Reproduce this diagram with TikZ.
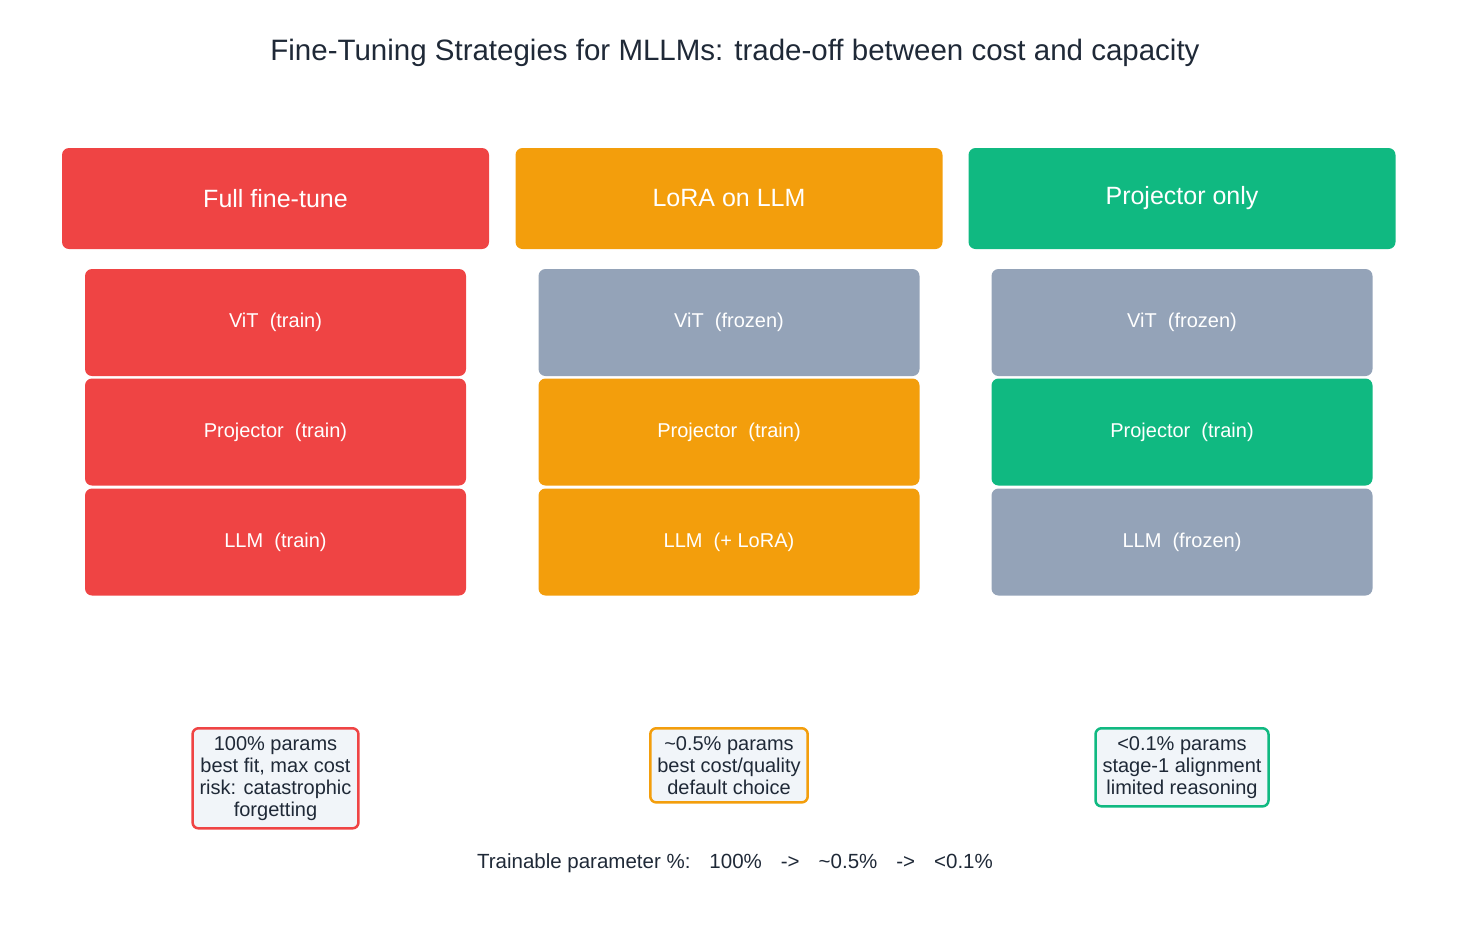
\documentclass[tikz,border=0pt]{standalone}
\usepackage{fontspec}
\setmainfont{Liberation Sans}
\usetikzlibrary{positioning}

\definecolor{fullred}{HTML}{EF4444}
\definecolor{loraorange}{HTML}{F39E0C}
\definecolor{projgreen}{HTML}{10B981}
\definecolor{frozengray}{HTML}{94A3B8}
\definecolor{notebg}{HTML}{F1F5F9}
\definecolor{inkdark}{HTML}{1F2937}

\tikzset{
    headbox/.style={rounded corners=7pt, minimum width=427pt, minimum height=101pt,
        inner sep=0pt, text=white, font=\fontsize{25}{28}\selectfont},
    layerbox/.style={rounded corners=7pt, minimum width=381pt, minimum height=107pt,
        inner sep=0pt, text=white, font=\fontsize{20}{22}\selectfont},
    notebox/.style={rounded corners=6pt, line width=2.5pt, fill=notebg, text=inkdark,
        align=center, inner xsep=7pt, inner ysep=8pt, anchor=north,
        font=\fontsize{20}{22}\selectfont}
}

\begin{document}
\begin{tikzpicture}[x=1pt, y=-1pt]
    \useasboundingbox (0,0) rectangle (1470,935);

    % title
    \node[text=inkdark, font=\fontsize{29.5}{32}\selectfont] (title) at (735,53)
        {Fine-Tuning Strategies for MLLMs: trade-off between cost and capacity};

    % strategy headers
    \node[headbox, fill=fullred]    (fullhead) at (275.5,198.5) {Full fine-tune};
    \node[headbox, fill=loraorange] (lorahead) at (729,198.5)   {LoRA on LLM};
    \node[headbox, fill=projgreen]  (projhead) at (1182,198.5)  {Projector only};

    % model stacks: ViT, projector, LLM
    \foreach \name/\cx/\cvit/\tvit/\cprj/\tprj/\cllm/\tllm in {
        full/275.5/fullred/train/fullred/train/fullred/train,
        lora/729/frozengray/frozen/loraorange/train/loraorange/+ LoRA,
        proj/1182/frozengray/frozen/projgreen/train/frozengray/frozen}
    {
        \node[layerbox, fill=\cvit] (\name vit) at (\cx,322.5) {ViT\ \ (\tvit)};
        \node[layerbox, fill=\cprj] (\name prj) at (\cx,432)   {Projector\ \ (\tprj)};
        \node[layerbox, fill=\cllm] (\name llm) at (\cx,542)   {LLM\ \ (\tllm)};
    }

    % notes
    \node[notebox, draw=fullred]    (fullnote) at (275.5,727)
        {100\% params\\best fit, max cost\\risk: catastrophic\\forgetting};
    \node[notebox, draw=loraorange] (loranote) at (729,727)
        {\textasciitilde0.5\% params\\best cost/quality\\default choice};
    \node[notebox, draw=projgreen]  (projnote) at (1182,727)
        {<0.1\% params\\stage-1 alignment\\limited reasoning};

    % summary line
    \node[text=inkdark, font=\fontsize{20.5}{22}\selectfont] (summary) at (735,863)
        {Trainable parameter \%:\hspace{19pt}100\%\hspace{19pt}->\hspace{19pt}\textasciitilde0.5\%\hspace{19pt}->\hspace{19pt}<0.1\%};

\end{tikzpicture}
\end{document}
